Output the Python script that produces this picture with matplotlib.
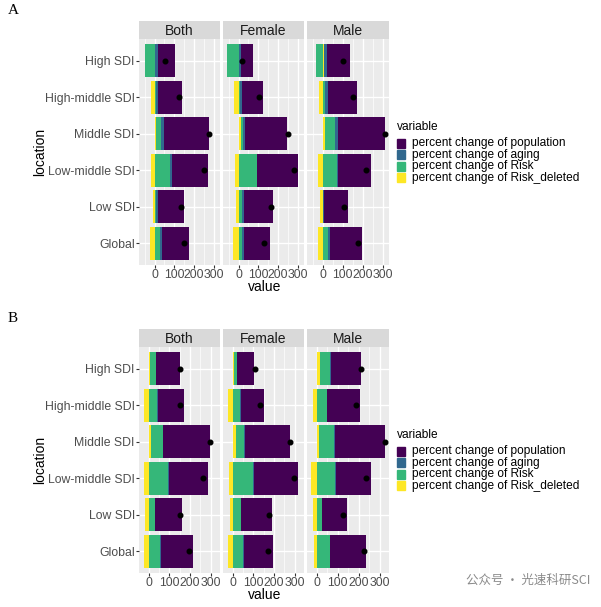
import matplotlib.pyplot as plt
from matplotlib.patches import Rectangle

plt.rcParams['font.family'] = ['Liberation Sans', 'DejaVu Sans']

# bottom to top
locations = ["Global", "Low SDI", "Low-middle SDI", "Middle SDI", "High-middle SDI", "High SDI"]
sexes = ["Both", "Female", "Male"]
variables = ["percent change of population", "percent change of aging",
             "percent change of Risk", "percent change of Risk_deleted"]
colors = ["#440154", "#31688E", "#35B779", "#FDE725"]

# panel A, one list per sex (Both, Female, Male), values per location
a_population = [[138, 130, 187, 227, 123, 87],
                [132, 147, 205, 216, 108, 65],
                [157, 121, 163, 238, 147, 117]]
a_aging = [[12, 12, 8, 15, 12, 17],
           [10, 10, 3, 10, 12, 8],
           [13, 5, 8, 15, 15, 12]]
a_risk = [[27, 7, 78, 27, 5, -48],
          [17, 17, 93, 12, 6, -60],
          [25, 2, 70, 50, 10, -33]]
a_risk_deleted = [[-25, -10, -20, 8, -18, 1],
                  [-30, -12, -18, 10, -21, 2],
                  [-22, -13, -25, 10, -17, 8]]
a_total = [[147, 135, 250, 277, 125, 55],
           [127, 163, 283, 250, 105, 18],
           [175, 108, 217, 313, 153, 103]]

# panel B
b_population = [[154, 132, 190, 228, 130, 116],
                [141, 148, 211, 221, 114, 84],
                [173, 117, 166, 240, 157, 145]]
b_aging = [[2, 2, 3, 3, 2, 3],
           [2, 2, 3, 3, 2, 2],
           [2, 2, 3, 3, 2, 2]]
b_risk = [[57, 29, 93, 54, 41, 28],
          [52, 40, 100, 39, 36, 15],
          [61, 24, 88, 73, 47, 50]]
b_risk_deleted = [[-22, -16, -25, 13, -22, 5],
                  [-22, -13, -16, 16, -21, 4],
                  [-14, -17, -29, 11, -19, 14]]
b_total = [[197, 149, 265, 298, 152, 152],
           [173, 176, 297, 279, 132, 108],
           [224, 124, 233, 327, 187, 211]]

W, H = 601, 607
fig = plt.figure(figsize=(W / 100, H / 100), dpi=100)


def rect(x0, y0, x1, y1):
    return [x0 / W, 1 - y1 / H, (x1 - x0) / W, (y1 - y0) / H]


facet_x = [(139, 220), (223, 304), (307, 389)]
grey = "#4D4D4D"


def draw_panel(top, letter, series, totals):
    # stacked extents for the x scale (ggplot adds 5%)
    lo, hi = 0, 0
    for s in range(3):
        for i in range(len(locations)):
            vals = [series[k][s][i] for k in range(4)]
            lo = min(lo, sum(v for v in vals if v < 0))
            hi = max(hi, sum(v for v in vals if v > 0), totals[s][i])
    pad = (hi - lo) * 0.05
    xlim = (lo - pad, hi + pad)

    strip_top, plot_top, plot_bot = top, top + 18, top + 244
    for s, sex in enumerate(sexes):
        x0, x1 = facet_x[s]
        st = fig.add_axes(rect(x0, strip_top, x1, plot_top))
        st.set_facecolor("#D9D9D9")
        st.set_xticks([])
        st.set_yticks([])
        for sp in st.spines.values():
            sp.set_visible(False)
        st.text(0.5, 0.45, sex, ha="center", va="center", fontsize=10,
                color="#1A1A1A", transform=st.transAxes)

        ax = fig.add_axes(rect(x0, plot_top, x1, plot_bot))
        ax.set_facecolor("#EBEBEB")
        for sp in ax.spines.values():
            sp.set_visible(False)
        ax.set_xlim(*xlim)
        ax.set_ylim(0.4, len(locations) + 0.6)
        for g in [-50, 50, 150, 250, 350]:
            if xlim[0] < g < xlim[1]:
                ax.axvline(g, color="white", lw=0.5, zorder=0)
        for g in [0, 100, 200, 300]:
            ax.axvline(g, color="white", lw=1.0, zorder=0)
        for y in range(1, len(locations) + 1):
            ax.axhline(y, color="white", lw=1.0, zorder=0)

        for i in range(len(locations)):
            y = i + 1
            pos, neg = 0, 0
            # Risk_deleted nearest zero, population outermost
            for k in [3, 2, 1, 0]:
                v = series[k][s][i]
                if v >= 0:
                    ax.barh(y, v, left=pos, height=0.9, color=colors[k], zorder=2)
                    pos += v
                else:
                    ax.barh(y, v, left=neg, height=0.9, color=colors[k], zorder=2)
                    neg += v
        ax.scatter(totals[s], range(1, len(locations) + 1), s=11, color="black", zorder=3)

        ax.set_xticks([0, 100, 200, 300])
        ax.set_xticklabels(["0", "100", "200", "300"], fontsize=8.8, color=grey)
        ax.tick_params(axis="x", length=2, width=0.8, color="#333333", pad=1)
        ax.set_yticks(range(1, len(locations) + 1))
        if s == 0:
            ax.set_yticklabels(locations, fontsize=8.8, color=grey)
            ax.tick_params(axis="y", length=2, width=0.8, color="#333333", pad=1)
        else:
            ax.set_yticklabels([])
            ax.tick_params(axis="y", length=0)

    fig.text(40 / W, 1 - (plot_top + plot_bot) / 2 / H, "location", rotation=90,
             ha="center", va="center", fontsize=10)
    fig.text(265 / W, 1 - (plot_bot + 22) / H, "value", ha="center", va="center", fontsize=10)
    fig.text(8 / W, 1 - (top - 11) / H, letter, ha="left", va="center", fontsize=11,
             family="Liberation Serif")

    # legend
    ly = top + 106
    fig.text(397 / W, 1 - ly / H, "variable", ha="left", va="center", fontsize=8.6)
    for k, name in enumerate(variables):
        cy = ly + 16 + k * 11.6
        fig.patches.append(Rectangle((397 / W, 1 - (cy + 4.5) / H), 8 / W, 9 / H,
                                     color=colors[k], transform=fig.transFigure))
        fig.text(412 / W, 1 - cy / H, name, ha="left", va="center", fontsize=8.6)


draw_panel(21, "A", [a_population, a_aging, a_risk, a_risk_deleted], a_total)
draw_panel(329, "B", [b_population, b_aging, b_risk, b_risk_deleted], b_total)

fig.text(590 / W, 1 - 580 / H, "公众号 · 光速科研SCI", ha="right", va="center",
         fontsize=9, color="#8A8A8A", family=["Noto Sans CJK SC", "DejaVu Sans"])

fig.savefig("out.png", dpi=100)
